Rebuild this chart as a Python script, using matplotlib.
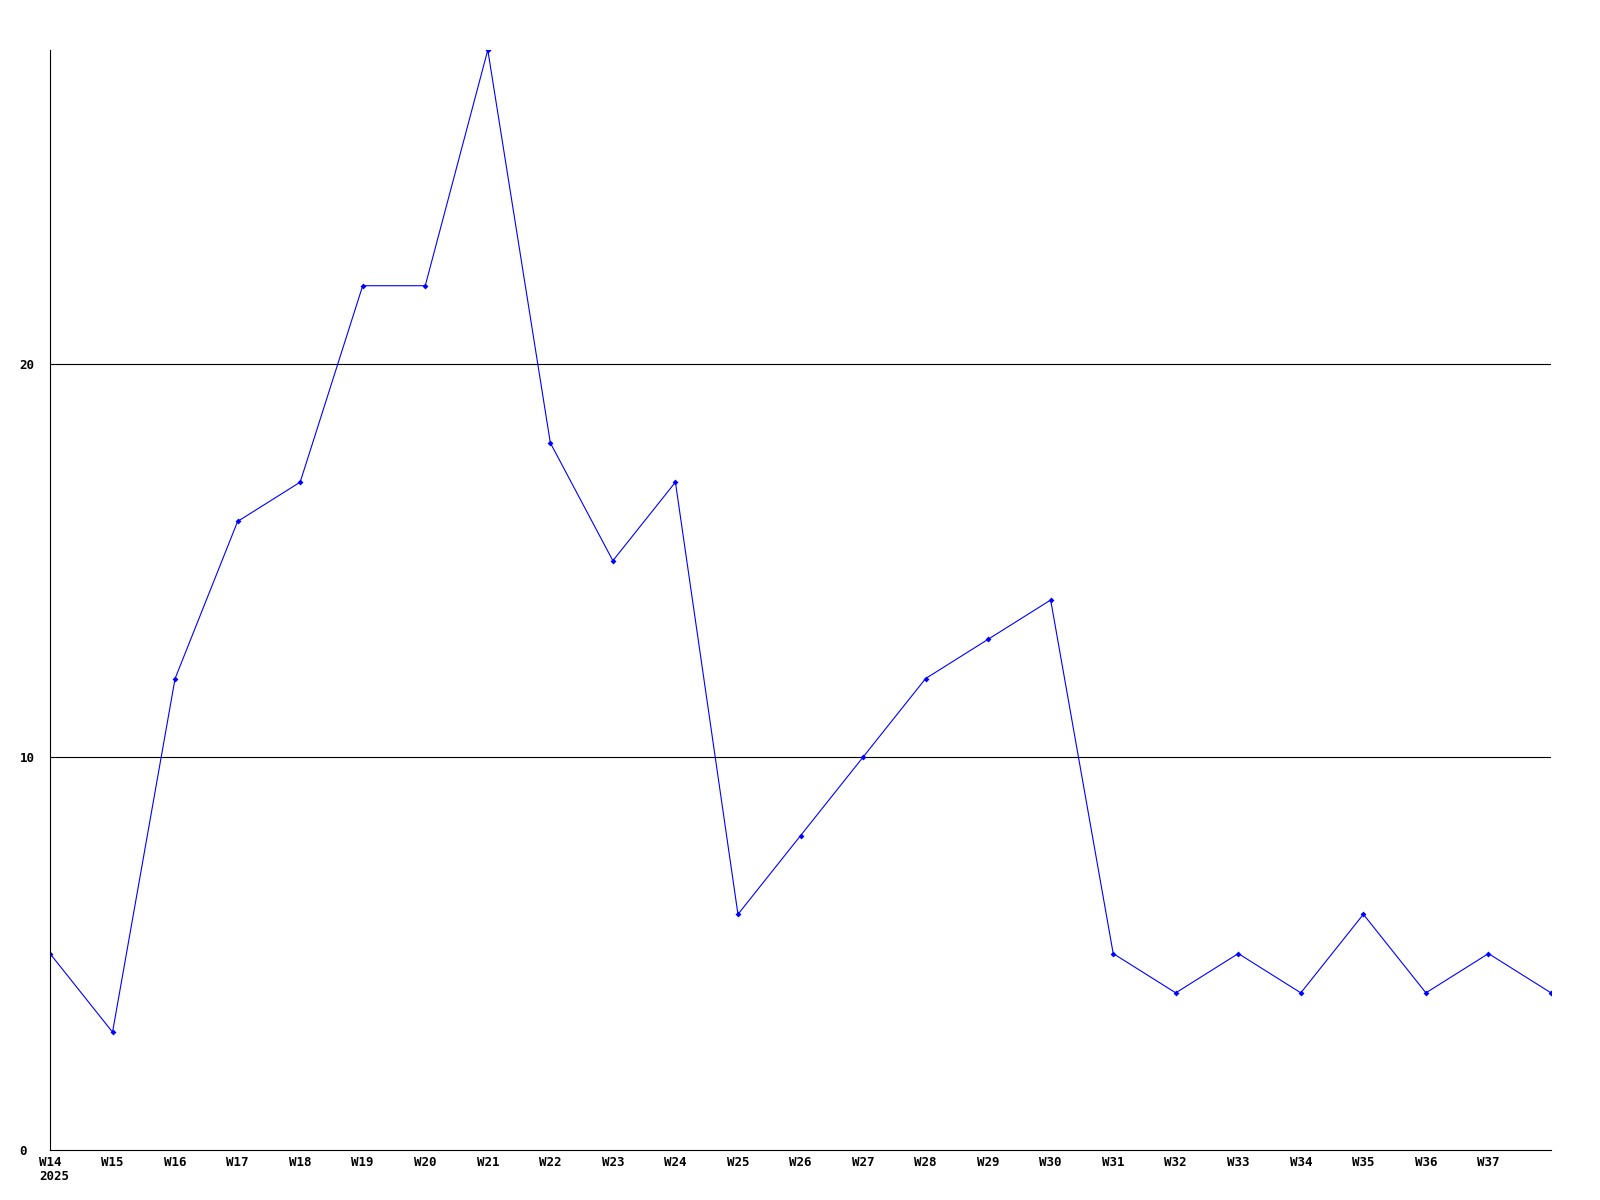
import matplotlib
matplotlib.use('Agg')
import matplotlib.pyplot as plt

# weekly counts, W14 2025 .. W38
weeks = ['W14', 'W15', 'W16', 'W17', 'W18', 'W19', 'W20', 'W21', 'W22', 'W23',
         'W24', 'W25', 'W26', 'W27', 'W28', 'W29', 'W30', 'W31', 'W32', 'W33',
         'W34', 'W35', 'W36', 'W37', 'W38']
values = [5, 3, 12, 16, 17, 22, 22, 28, 18, 15,
          17, 6, 8, 10, 12, 13, 14, 5, 4, 5,
          4, 6, 4, 5, 4]
year = '2025'
yticks = [0, 10, 20]

fig = plt.figure(figsize=(16, 12), dpi=100)
ax = fig.add_axes([50/1600, 50/1200, 1501/1600, 1100/1200])

x = list(range(len(weeks)))
ax.plot(x, values, color='#0000ff', lw=0.8, marker='D', ms=3, mew=0)

ax.set_xlim(0, len(weeks) - 1)
ax.set_ylim(0, 28)

for v in yticks[1:]:
    ax.axhline(v, color='black', lw=0.8, zorder=0)

for s in ['top', 'right']:
    ax.spines[s].set_visible(False)
for s in ['left', 'bottom']:
    ax.spines[s].set_linewidth(0.8)

font = dict(family='DejaVu Sans Mono', weight='bold', size=9)

# last week has a point but no label
labels = list(weeks[:-1]) + ['']
ax.set_xticks(x)
ax.set_xticklabels(labels, ha='center', va='center', **font)
ax.tick_params(axis='x', length=0, pad=9)

# year under the first week, left edge lined up with W14
ax.annotate(year, xy=(0, 0), xycoords=('data', 'axes fraction'),
            xytext=(-8.1, -19), textcoords='offset points',
            ha='left', va='center', **font)

ax.set_yticks(yticks)
ax.set_yticklabels([str(v) for v in yticks], ha='left', **font)
ax.tick_params(axis='y', length=0, pad=22)

fig.savefig('out.png', dpi=100)
